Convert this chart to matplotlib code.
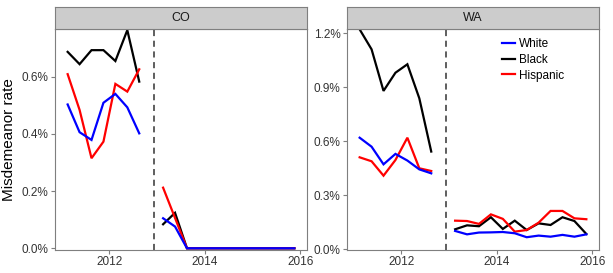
import matplotlib.pyplot as plt
from matplotlib.lines import Line2D
from matplotlib.ticker import FuncFormatter

plt.rcParams['font.family'] = ['Liberation Sans', 'DejaVu Sans']

# quarter midpoints (decimal years)
pre_dates = [2011.125, 2011.375, 2011.625, 2011.875, 2012.125, 2012.375, 2012.625]
post_dates = [2013.125, 2013.375, 2013.625, 2013.875, 2014.125, 2014.375,
              2014.625, 2014.875, 2015.125, 2015.375, 2015.625, 2015.875]
legalization = 2012.93

# misdemeanor rates, in percent
co_pre = {
    'White':    [0.503, 0.406, 0.379, 0.509, 0.540, 0.493, 0.402],
    'Black':    [0.687, 0.644, 0.693, 0.693, 0.655, 0.763, 0.583],
    'Hispanic': [0.609, 0.484, 0.315, 0.373, 0.575, 0.548, 0.626],
}
co_post = {
    'White':    [0.105, 0.076, 0, 0, 0, 0, 0, 0, 0, 0, 0, 0],
    'Black':    [0.084, 0.124, 0, 0, 0, 0, 0, 0, 0, 0, 0, 0],
    'Hispanic': [0.212, 0.106, 0, 0, 0, 0, 0, 0, 0, 0, 0, 0],
}
wa_pre = {
    'White':    [0.620, 0.570, 0.472, 0.530, 0.493, 0.444, 0.422],
    'Black':    [1.222, 1.111, 0.880, 0.981, 1.028, 0.839, 0.543],
    'Hispanic': [0.511, 0.489, 0.409, 0.496, 0.620, 0.450, 0.435],
}
wa_post = {
    'White':    [0.102, 0.083, 0.093, 0.094, 0.096, 0.089, 0.067, 0.076, 0.070, 0.080, 0.070, 0.083],
    'Black':    [0.111, 0.133, 0.128, 0.178, 0.113, 0.159, 0.107, 0.144, 0.135, 0.178, 0.157, 0.085],
    'Hispanic': [0.159, 0.157, 0.141, 0.194, 0.169, 0.098, 0.107, 0.148, 0.213, 0.213, 0.172, 0.167],
}

colors = {'White': '#0000FF', 'Black': '#000000', 'Hispanic': '#FF0000'}
draw_order = ['Black', 'Hispanic', 'White']
legend_order = ['White', 'Black', 'Hispanic']

panels = [
    ('CO', co_pre, co_post, [0, 0.2, 0.4, 0.6], (-0.006, 0.767)),
    ('WA', wa_pre, wa_post, [0, 0.3, 0.6, 0.9, 1.2], (-0.004, 1.224)),
]

fig = plt.figure(figsize=(6.13, 2.73), dpi=100)
lefts = [55 / 613, 347 / 613]
width = 252 / 613
bottom = 1 - 250 / 273
height = (250 - 29) / 273
strip_h = 22 / 273

for (name, pre, post, yticks, ylim), left in zip(panels, lefts):
    ax = fig.add_axes([left, bottom, width, height])
    for race in draw_order:
        ax.plot(pre_dates, pre[race], color=colors[race], lw=1.6, solid_joinstyle='miter')
        ax.plot(post_dates, post[race], color=colors[race], lw=1.6, solid_joinstyle='miter')
    ax.axvline(legalization, color='#333333', lw=1.1, ls=(0, (4, 3)))
    ax.set_xlim(2010.86, 2016.14)
    ax.set_ylim(*ylim)
    ax.set_xticks([2012, 2014, 2016])
    ax.set_yticks(yticks)
    ax.yaxis.set_major_formatter(FuncFormatter(lambda v, p: f'{v:.1f}%'))
    for s in ax.spines.values():
        s.set_color('#7F7F7F')
        s.set_linewidth(0.8)
    ax.tick_params(length=3, width=0.8, color='#7F7F7F', labelsize=8.5,
                   labelcolor='#333333', pad=1.5)

    # facet strip
    sax = fig.add_axes([left, bottom + height, width, strip_h])
    sax.set_xticks([])
    sax.set_yticks([])
    sax.set_facecolor('#CCCCCC')
    for s in sax.spines.values():
        s.set_color('#7F7F7F')
        s.set_linewidth(0.8)
    sax.text(0.5, 0.5, name, ha='center', va='center', fontsize=9, color='#1A1A1A',
             transform=sax.transAxes)

    if name == 'CO':
        ax.set_ylabel('Misdemeanor rate', fontsize=11, labelpad=4)
    else:
        handles = [Line2D([], [], color=colors[r], lw=1.6) for r in legend_order]
        ax.legend(handles, legend_order, loc='upper right', bbox_to_anchor=(0.9, 1.0),
                  frameon=False, fontsize=8.5, handlelength=1.1, handletextpad=0.4,
                  labelspacing=0.3, borderpad=0.3)

fig.savefig('out.png', dpi=100)
